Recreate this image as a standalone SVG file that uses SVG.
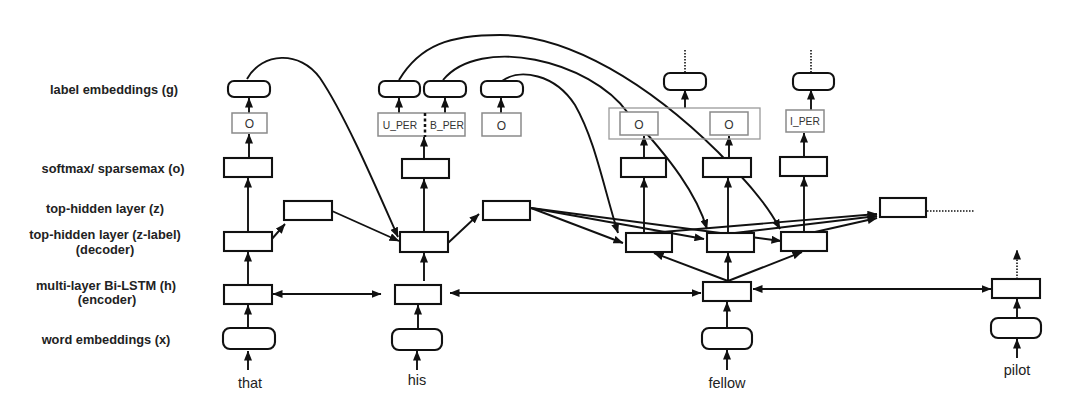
<svg xmlns="http://www.w3.org/2000/svg" width="1080" height="407" viewBox="0 0 1080 407">
<defs>
<marker id="ah" viewBox="0 0 10 8" markerWidth="10" markerHeight="8" refX="9.5" refY="4" orient="auto-start-reverse" markerUnits="userSpaceOnUse">
<path d="M0,0 L10,4 L0,8 z" fill="#111"/>
</marker>
</defs>
<style>
.c{fill:none;stroke:#111;stroke-width:1.9}
.a{marker-end:url(#ah)}
.d{marker-start:url(#ah);marker-end:url(#ah)}
.dot{fill:none;stroke:#111;stroke-width:1.6;stroke-dasharray:1.5 1.5}
.b{fill:#fff;stroke:#111;stroke-width:2.1}
.r{fill:#fff;stroke:#111;stroke-width:2.1}
.l{fill:#fff;stroke:#8a8a8a;stroke-width:1.5}
.br{fill:none;stroke:#9a9a9a;stroke-width:1.3}
.side{font-family:"Liberation Sans",Arial,sans-serif;font-weight:bold;font-size:12.8px;fill:#222;text-anchor:middle}
.lt{font-family:"Liberation Sans",Arial,sans-serif;font-size:10.3px;fill:#333;text-anchor:middle}
.o{font-family:"Liberation Sans",Arial,sans-serif;font-size:12px;fill:#333;text-anchor:middle}
.w{font-family:"Liberation Sans",Arial,sans-serif;font-size:14.5px;fill:#222;text-anchor:middle}
</style>
<rect width="1080" height="407" fill="#fff"/>
<g id="layer-labels">
<text class="side" x="114" y="93.5">label embeddings (g)</text>
<text class="side" x="113" y="173">softmax/ sparsemax (o)</text>
<text class="side" x="105" y="213">top-hidden layer (z)</text>
<text class="side" x="105" y="239">top-hidden layer (z-label)</text>
<text class="side" x="105" y="254">(decoder)</text>
<text class="side" x="106" y="290">multi-layer Bi-LSTM (h)</text>
<text class="side" x="107" y="304">(encoder)</text>
<text class="side" x="106" y="344">word embeddings (x)</text>
</g>
<g id="connectors">
<path class="c a" d="M248,370 L248,351"/>
<path class="c a" d="M248,328 L248,305"/>
<path class="c a" d="M248,285 L248,252"/>
<path class="c a" d="M248,232 L248,178"/>
<path class="c a" d="M249,158 L249,134"/>
<path class="c a" d="M249,113 L249,98"/>
<path class="c a" d="M271,240 L285,224"/>
<path class="c a" d="M332,211 L399,241"/>
<path class="c a" d="M247,79 C262,52 300,50 320,78 C345,115 375,185 398,237"/>
<path class="c d" d="M273,294 L381,294"/>
<path class="c a" d="M417,370 L417,351"/>
<path class="c a" d="M418,329 L418,305"/>
<path class="c a" d="M424,281 L424,253"/>
<path class="c a" d="M424,232 L424,179"/>
<path class="c a" d="M424,159 L424,137"/>
<path class="c a" d="M399,113 L399,98"/>
<path class="c a" d="M445,113 L445,98"/>
<path class="c a" d="M501,113 L501,98"/>
<path class="c a" d="M448,243 L479,214"/>
<path class="c d" d="M450,293 L701,293"/>
<path class="c a" d="M531,208 L623,243"/>
<path class="c a" d="M531,208 L704,239"/>
<path class="c a" d="M531,208 L781,241"/>
<path class="c a" d="M399,80 C420,45 450,35 500,35 C570,35 650,85 718,152 C740,175 765,200 780,229"/>
<path class="c a" d="M443,80 C480,35 590,60 628,113 C672,160 697,195 707,229"/>
<path class="c a" d="M502,81 C520,68 555,74 575,105 C595,140 603,185 618,233"/>
<path class="c a" d="M727,370 L727,350"/>
<path class="c a" d="M727,328 L727,302"/>
<path class="c a" d="M728,281 L654,253"/>
<path class="c a" d="M728,281 L728,253"/>
<path class="c a" d="M728,281 L802,252"/>
<path class="c d" d="M753,289 L991,289"/>
<path class="c a" d="M644,233 L644,178"/>
<path class="c a" d="M644,158 L644,136"/>
<path class="c a" d="M728,233 L728,178"/>
<path class="c a" d="M729,158 L729,136"/>
<path class="c a" d="M804,232 L804,177"/>
<path class="c a" d="M804,157 L804,133"/>
<path class="c a" d="M685,108 L685,90"/>
<path class="c a" d="M811,110 L811,90"/>
<path class="dot" d="M685,50 L685,72"/>
<path class="dot" d="M811,50 L811,72"/>
<path class="c a" d="M650,233 L877,214"/>
<path class="c a" d="M735,233 L877,216"/>
<path class="c a" d="M815,232 L877,218"/>
<path class="dot" d="M927,211 L975,211"/>
<path class="c a" d="M1017,358 L1017,339"/>
<path class="c a" d="M1017,318 L1017,299"/>
<path class="dot a" d="M1017,279 L1017,250"/>
</g>
<g id="that">
<rect class="r" x="228" y="81" width="42" height="16" rx="6"/>
<rect class="l" x="232" y="113" width="35" height="20"/>
<text class="o" x="249.5" y="127.5">O</text>
<rect class="b" x="224" y="158" width="48" height="19"/>
<rect class="b" x="224" y="232" width="48" height="19"/>
<rect class="b" x="284" y="201" width="48" height="19"/>
<rect class="b" x="224" y="285" width="48" height="19"/>
<rect class="r" x="223" y="328" width="52" height="21" rx="7"/>
<text class="w" x="250" y="388">that</text>
</g>
<g id="his">
<rect class="r" x="379" y="81" width="41" height="16" rx="6"/>
<rect class="r" x="424" y="81" width="42" height="16" rx="6"/>
<rect class="r" x="481" y="81" width="42" height="16" rx="6"/>
<rect class="l" x="378" y="113" width="87" height="23"/>
<path d="M425,113 L425,137" fill="none" stroke="#111" stroke-width="2.5" stroke-dasharray="3 2.5"/>
<text class="lt" x="400" y="129">U_PER</text>
<text class="lt" x="447" y="129">B_PER</text>
<rect class="l" x="482" y="113" width="39" height="23"/>
<text class="o" x="501.5" y="129.5">O</text>
<rect class="b" x="402" y="159" width="47" height="19"/>
<rect class="b" x="400" y="232" width="48" height="20"/>
<rect class="b" x="483" y="201" width="47" height="19"/>
<rect class="b" x="395" y="285" width="46" height="19"/>
<rect class="r" x="392" y="329" width="50" height="21" rx="7"/>
<text class="w" x="417" y="385">his</text>
</g>
<g id="fellow">
<rect class="br" x="609" y="108" width="151" height="31"/>
<rect class="r" x="664" y="73" width="42" height="17" rx="6"/>
<rect class="l" x="620" y="112" width="38" height="23"/>
<text class="o" x="639" y="128.5">O</text>
<rect class="l" x="710" y="112" width="38" height="23"/>
<text class="o" x="729" y="128.5">O</text>
<rect class="r" x="793" y="73" width="41" height="17" rx="6"/>
<rect class="l" x="786" y="110" width="38" height="22"/>
<text class="lt" x="805" y="125">I_PER</text>
<rect class="b" x="621" y="158" width="45" height="19"/>
<rect class="b" x="703" y="158" width="48" height="19"/>
<rect class="b" x="780" y="157" width="47" height="19"/>
<rect class="b" x="626" y="233" width="46" height="19"/>
<rect class="b" x="707" y="233" width="47" height="19"/>
<rect class="b" x="781" y="232" width="46" height="19"/>
<rect class="b" x="880" y="198" width="46" height="19"/>
<rect class="b" x="703" y="282" width="48" height="19"/>
<rect class="r" x="702" y="328" width="50" height="21" rx="7"/>
<text class="w" x="727" y="388">fellow</text>
</g>
<g id="pilot">
<rect class="b" x="992" y="279" width="48" height="19"/>
<rect class="r" x="991" y="318" width="50" height="20" rx="7"/>
<text class="w" x="1017" y="375">pilot</text>
</g>
</svg>
